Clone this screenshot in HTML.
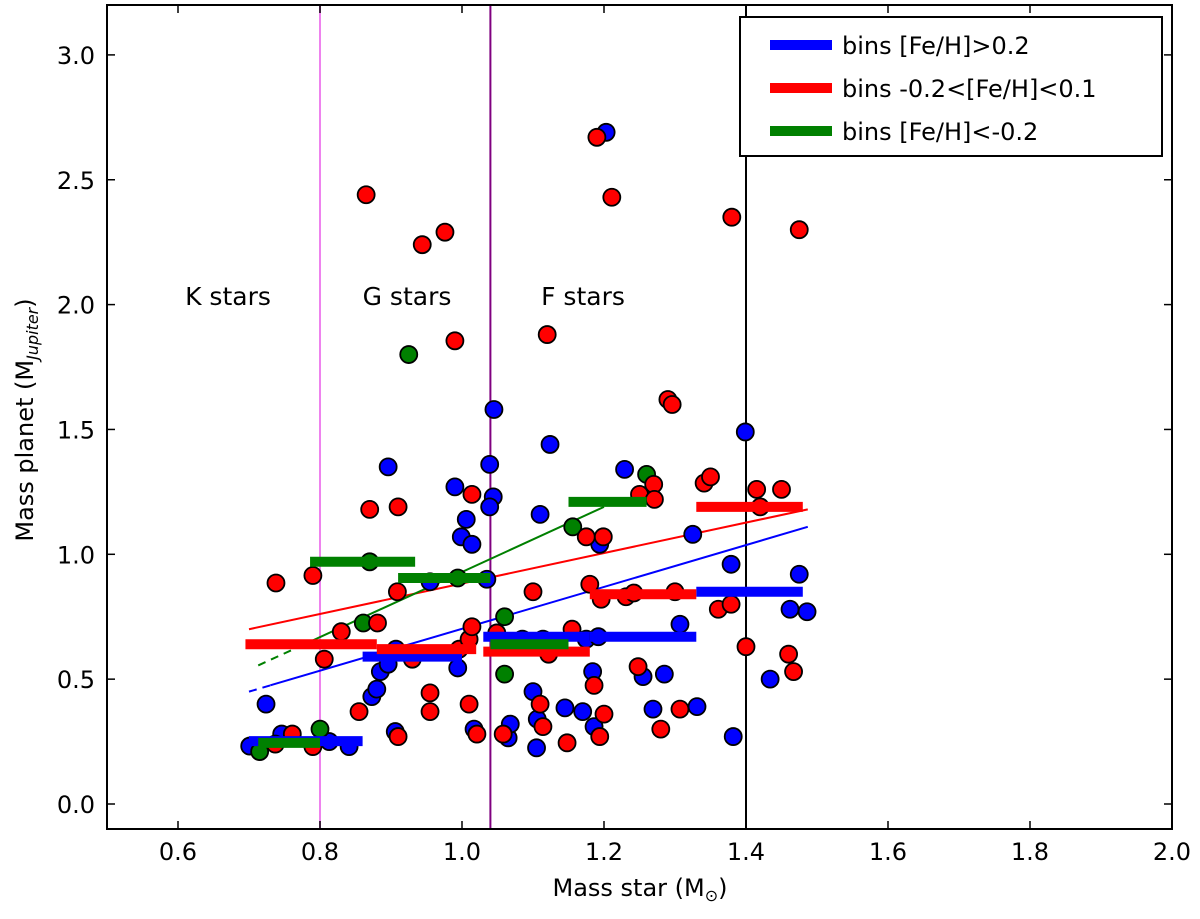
<!DOCTYPE html>
<html><head><meta charset="utf-8"><style>
html,body{margin:0;padding:0;background:#fff;}
svg text{font-family:"DejaVu Sans","Liberation Sans",sans-serif;}
</style></head><body>
<svg id="chart" width="1200" height="914" xmlns="http://www.w3.org/2000/svg"></svg>
<script>
const blueX=[0.701,0.724,0.746,0.813,0.841,0.873,0.880,0.885,0.896,0.896,0.907,0.906,0.955,0.990,0.999,1.006,1.014,0.994,1.017,1.039,1.045,1.044,1.039,1.035,1.065,1.068,1.085,1.10,1.106,1.105,1.11,1.114,1.124,1.145,1.17,1.175,1.184,1.192,1.186,1.194,1.203,1.229,1.255,1.269,1.285,1.307,1.325,1.331,1.379,1.382,1.399,1.434,1.462,1.475,1.486];
const blueY=[0.232,0.40,0.28,0.25,0.23,0.43,0.46,0.53,0.56,1.35,0.62,0.29,0.89,1.27,1.07,1.14,1.04,0.545,0.30,1.36,1.58,1.23,1.19,0.90,0.265,0.32,0.66,0.45,0.34,0.225,1.16,0.66,1.44,0.385,0.37,0.66,0.53,0.67,0.31,1.04,2.69,1.34,0.51,0.38,0.52,0.72,1.08,0.39,0.96,0.27,1.49,0.50,0.78,0.92,0.77];
const redX=[0.738,0.737,0.761,0.79,0.79,0.806,0.83,0.855,0.865,0.870,0.881,0.910,0.909,0.91,0.930,0.944,0.955,0.955,0.976,0.990,0.996,1.01,1.01,1.014,1.014,1.021,1.049,1.058,1.10,1.11,1.114,1.120,1.122,1.148,1.155,1.175,1.18,1.186,1.19,1.194,1.199,1.196,1.20,1.211,1.231,1.242,1.248,1.25,1.27,1.271,1.28,1.29,1.296,1.307,1.30,1.341,1.35,1.361,1.379,1.38,1.40,1.415,1.42,1.45,1.46,1.467,1.475];
const redY=[0.885,0.24,0.28,0.23,0.915,0.58,0.69,0.37,2.44,1.18,0.725,1.19,0.85,0.27,0.58,2.24,0.445,0.37,2.29,1.855,0.62,0.66,0.40,1.24,0.71,0.28,0.685,0.28,0.85,0.40,0.31,1.88,0.60,0.245,0.70,1.07,0.88,0.475,2.67,0.27,1.07,0.82,0.36,2.43,0.83,0.845,0.55,1.24,1.28,1.22,0.30,1.62,1.60,0.38,0.85,1.285,1.31,0.78,0.80,2.35,0.63,1.26,1.19,1.26,0.60,0.53,2.30];
const greenX=[0.715,0.80,0.861,0.87,0.925,0.994,1.06,1.06,1.156,1.26];
const greenY=[0.21,0.30,0.725,0.97,1.80,0.905,0.75,0.52,1.11,1.32];
const blueBinStart=[0.70,0.86,1.03,1.18,1.33];
const blueBinEnd=[0.86,1.00,1.18,1.33,1.48];
const blueBinVal=[0.252,0.59,0.67,0.67,0.85];
const redBinStart=[0.695,0.88,1.03,1.18,1.33];
const redBinEnd=[0.88,1.02,1.18,1.33,1.48];
const redBinVal=[0.64,0.62,0.61,0.84,1.19];
const greenBinStart=[0.713,0.786,0.91,1.04,1.15];
const greenBinEnd=[0.80,0.934,1.04,1.15,1.26];
const greenBinVal=[0.245,0.97,0.905,0.64,1.21];
const blueFit=[0.70,0.45,1.487,1.11]; const blueDash=0.73;
const redFit=[0.70,0.70,1.487,1.18];
const greenFit=[0.713,0.555,1.20,1.19]; const greenDash=0.79;
const xTicks=[0.6,0.8,1.0,1.2,1.4,1.6,1.8,2.0];
const yTicks=[0.0,0.5,1.0,1.5,2.0,2.5,3.0];

const svg=document.getElementById('chart');
const NS='http://www.w3.org/2000/svg';
const L=107,R=1172,T=5,B=829;
const sx=v=>L+(v-0.5)/1.5*(R-L);
const sy=v=>804-v*249.7;
function el(tag,attrs,parent){const e=document.createElementNS(NS,tag);for(const k in attrs)e.setAttribute(k,attrs[k]);(parent||svg).appendChild(e);return e;}
function txt(s,attrs,parent){const e=el('text',attrs,parent);e.textContent=s;return e;}

const vl=[[0.8,'#ee82ee','k-g-boundary'],[1.04,'#800080','g-f-boundary'],[1.4,'#000','f-limit-line']];
vl.forEach(v=>{const e=el('line',{x1:sx(v[0]),x2:sx(v[0]),y1:T,y2:B,stroke:v[1],'stroke-width':2});

});

function fit(f,dashX,color,name){
  const g=el('g',{});
  
  
  const yAt=x=>f[1]+(f[3]-f[1])*(x-f[0])/(f[2]-f[0]);
  let xs=f[0];
  if(dashX!==undefined){el('line',{x1:sx(f[0]),y1:sy(f[1]),x2:sx(dashX),y2:sy(yAt(dashX)),stroke:color,'stroke-width':2,'stroke-dasharray':'8,6'},g);xs=dashX;}
  el('line',{x1:sx(xs),y1:sy(yAt(xs)),x2:sx(f[2]),y2:sy(f[3]),stroke:color,'stroke-width':2},g);
}
fit(redFit,undefined,'#ff0000','red-fit-line');
fit(blueFit,blueDash,'#0000ff','blue-fit-line');
fit(greenFit,greenDash,'#008000','green-fit-line');

function bins(s,e,v,color,name){
  for(let i=0;i<s.length;i++){const b=el('line',{x1:sx(s[i]),x2:sx(e[i]),y1:sy(v[i]),y2:sy(v[i]),stroke:color,'stroke-width':10});
  
  }
}
function pts(xs,ys,color,name){
  for(let i=0;i<xs.length;i++){const c=el('circle',{cx:sx(xs[i]),cy:sy(ys[i]),r:8.5,fill:color,stroke:'#000','stroke-width':1.8});
  
  }
}
pts(blueX,blueY,'#0000ff','blue-point');
pts(greenX,greenY,'#008000','green-point');
pts(redX,redY,'#ff0000','red-point');
bins(blueBinStart,blueBinEnd,blueBinVal,'#0000ff','blue-bin');
bins(redBinStart,redBinEnd,redBinVal,'#ff0000','red-bin');
bins(greenBinStart,greenBinEnd,greenBinVal,'#008000','green-bin');

const fr=el('rect',{x:L,y:T,width:R-L,height:B-T,fill:'none',stroke:'#000','stroke-width':2});


xTicks.forEach(t=>{el('line',{x1:sx(t),x2:sx(t),y1:B,y2:B-8,stroke:'#000','stroke-width':1.5});el('line',{x1:sx(t),x2:sx(t),y1:T,y2:T+8,stroke:'#000','stroke-width':1.5});
const e=txt(t.toFixed(1),{x:sx(t),y:860,'font-size':24,'text-anchor':'middle'});

});
yTicks.forEach(t=>{el('line',{x1:L,x2:L+8,y1:sy(t),y2:sy(t),stroke:'#000','stroke-width':1.5});el('line',{x1:R,x2:R-8,y1:sy(t),y2:sy(t),stroke:'#000','stroke-width':1.5});
const e=txt(t.toFixed(1),{x:95,y:sy(t)+9,'font-size':24,'text-anchor':'end'});

});

const xt=txt('Mass star (M',{x:640,y:896,'font-size':24,'text-anchor':'middle'});
const sub=el('tspan',{'font-size':16,dy:5},xt);sub.textContent='\u2299';
const cl=el('tspan',{'font-size':24,dy:-5},xt);cl.textContent=')';


const yt=txt('Mass planet (M',{x:0,y:0,'font-size':24,'text-anchor':'middle',transform:'translate(33,420) rotate(-90)'});
const s2=el('tspan',{'font-size':16,dy:5,'font-style':'italic'},yt);s2.textContent='Jupiter';
const c2=el('tspan',{'font-size':24,dy:-5},yt);c2.textContent=')';



[['K stars',228,'k-stars-label'],['G stars',407,'g-stars-label'],['F stars',583,'f-stars-label']].forEach(a=>{
const e=txt(a[0],{x:a[1],y:305,'font-size':25,'text-anchor':'middle'});

});

const lg=el('g',{});


el('rect',{x:740,y:17,width:422,height:139,fill:'#fff',stroke:'#000','stroke-width':2},lg);
[['bins [Fe/H]>0.2','#0000ff',45],['bins -0.2<[Fe/H]<0.1','#ff0000',88],['bins [Fe/H]<-0.2','#008000',131]].forEach(a=>{
const g=el('g',{},lg);


el('line',{x1:770,x2:832,y1:a[2],y2:a[2],stroke:a[1],'stroke-width':10},g);
txt(a[0],{x:842,y:a[2]+9,'font-size':24},g);});
</script>
</body></html>
